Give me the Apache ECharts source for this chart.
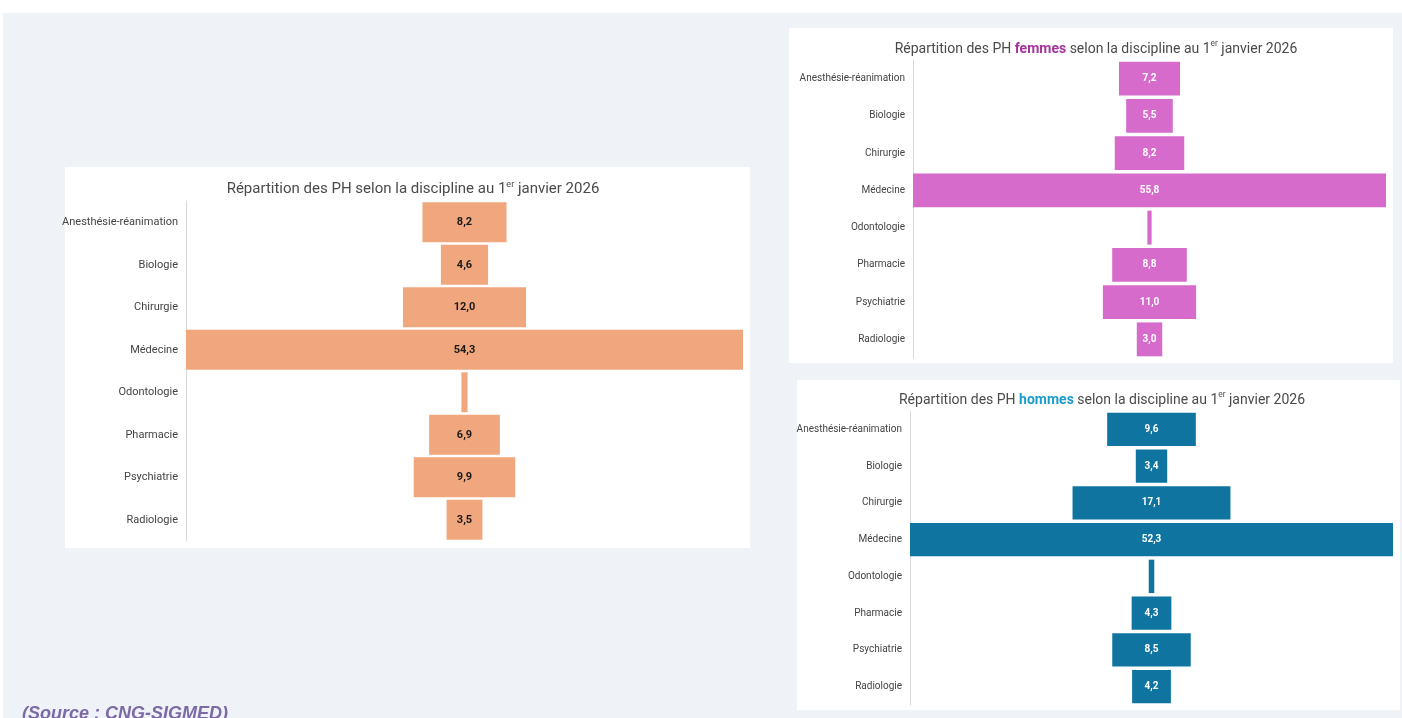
<!DOCTYPE html>
<html>
<head>
<meta charset="utf-8">
<script src="https://cdn.jsdelivr.net/npm/echarts@6/dist/echarts.min.js"></script>
<style>
  html, body { margin: 0; padding: 0; background: #fff; }
  #main { width: 1402px; height: 718px; }
</style>
</head>
<body>
<div id="main"></div>
<script>
// disciplines, dans l'ordre d'affichage (haut -> bas)
var disciplines = ['Anesthésie-réanimation', 'Biologie', 'Chirurgie', 'Médecine', 'Odontologie', 'Pharmacie', 'Psychiatrie', 'Radiologie'];
// % des PH par discipline
var ensemble = [8.2, 4.6, 12.0, 54.3, 0.6, 6.9, 9.9, 3.5];
var femmes   = [7.2, 5.5, 8.2, 55.8, 0.5, 8.8, 11.0, 3.0];
var hommes   = [9.6, 3.4, 17.1, 52.3, 0.6, 4.3, 8.5, 4.2];

var font = '"Liberation Sans Narrow", "Roboto", sans-serif';

function fmt(v) {
    return v.toFixed(1).replace('.', ',');
}
// demi-écart pour centrer chaque barre
function pads(arr) {
    var m = Math.max.apply(null, arr);
    return arr.map(function (v) { return (m - v) / 2; });
}

function titre(mot, couleur, left, top, size) {
    var txt = '{t|Répartition des PH }' + (mot ? '{m|' + mot + '}{t| }' : '') +
        '{t|selon la discipline au 1}{s|er}{t| janvier 2026}';
    return {
        text: txt,
        left: left,
        top: top,
        textAlign: 'center',
        textStyle: {
            fontWeight: 'normal',
            rich: {
                t: { fontFamily: font, fontSize: size, fontWeight: 'normal', color: '#4a4a4a', lineHeight: size + 4 },
                m: { fontFamily: font, fontSize: size, color: couleur, fontWeight: 'bold', lineHeight: size + 4 },
                s: { fontFamily: font, fontSize: size * 0.6, fontWeight: 'normal', color: '#4a4a4a', verticalAlign: 'top', lineHeight: size + 4 }
            }
        }
    };
}

var grids = [
    { left: 186, top: 201, width: 557, height: 340 },
    { left: 913, top: 60, width: 473, height: 298 },
    { left: 910, top: 411, width: 483, height: 294 }
];
var datasets = [ensemble, femmes, hommes];
var couleurs = ['#f0a77e', '#d66bcc', '#0f74a0'];
var couleursTxt = ['#1a1a1a', '#ffffff', '#ffffff'];
var tailles = [11, 10, 10];

var xAxes = [], yAxes = [], series = [];
for (var i = 0; i < 3; i++) {
    xAxes.push({
        gridIndex: i, type: 'value', min: 0, max: Math.max.apply(null, datasets[i]),
        show: false
    });
    yAxes.push({
        gridIndex: i, type: 'category', data: disciplines, inverse: true,
        axisLine: { show: true, lineStyle: { color: '#d9d9d9', width: 1 } },
        axisTick: { show: false },
        axisLabel: { fontFamily: font, fontSize: tailles[i], color: '#444', margin: 8 }
    });
    series.push({
        type: 'bar', stack: 's' + i, xAxisIndex: i, yAxisIndex: i,
        data: pads(datasets[i]), silent: true,
        itemStyle: { color: 'transparent' },
        barCategoryGap: i === 0 ? '6%' : '9%'
    });
    series.push({
        type: 'bar', stack: 's' + i, xAxisIndex: i, yAxisIndex: i,
        data: datasets[i],
        itemStyle: { color: couleurs[i] },
        barCategoryGap: i === 0 ? '6%' : '9%',
        label: {
            show: true, position: 'inside',
            fontFamily: 'Roboto, sans-serif', fontWeight: 'bold',
            fontSize: tailles[i], color: couleursTxt[i],
            formatter: function (p) { return p.value < 1 ? '' : fmt(p.value); }
        }
    });
}

var myChart = echarts.init(document.getElementById('main'));
var option = {
    backgroundColor: '#ffffff',
    animation: false,
    graphic: [
        { type: 'rect', z: -10, shape: { x: 3, y: 13, width: 1399, height: 705 }, style: { fill: '#eff2f7' } },
        { type: 'rect', z: -5, shape: { x: 65, y: 167, width: 685, height: 381 }, style: { fill: '#ffffff' } },
        { type: 'rect', z: -5, shape: { x: 789, y: 28, width: 604, height: 335 }, style: { fill: '#ffffff' } },
        { type: 'rect', z: -5, shape: { x: 797, y: 380, width: 603, height: 330 }, style: { fill: '#ffffff' } },
        {
            type: 'text', left: 22, top: 705,
            style: { text: '(Source : CNG-SIGMED)', font: 'italic bold 18px "Liberation Sans", Arial, sans-serif', fill: '#7b6aa6' }
        }
    ],
    title: [
        titre('', '', 408, 175, 15),
        titre('femmes', '#a5349f', 1091, 35, 14),
        titre('hommes', '#1c9ccc', 1097, 386, 14)
    ],
    grid: grids,
    xAxis: xAxes,
    yAxis: yAxes,
    series: series
};
myChart.setOption(option);
</script>
</body>
</html>
